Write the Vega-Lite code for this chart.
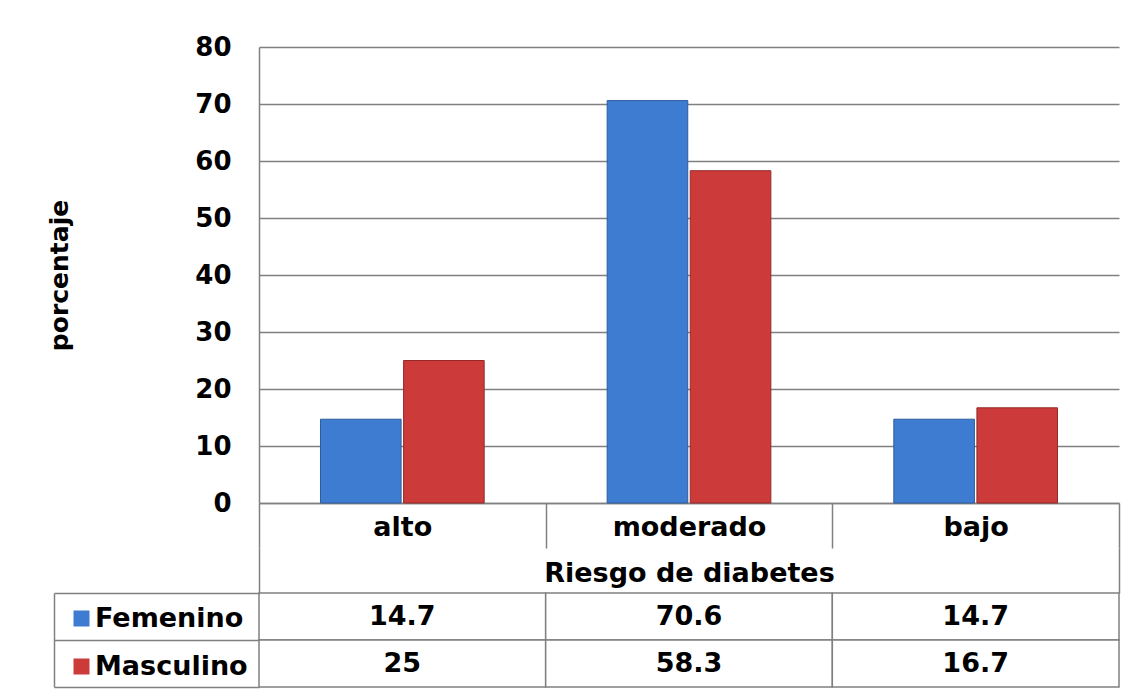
{
  "$schema": "https://vega.github.io/schema/vega-lite/v6.json",
  "background": "white",
  "padding": {"left": 47, "top": 34, "right": 24, "bottom": 8},
  "config": {"font": "DejaVu Sans", "view": {"stroke": null}},
  "data": {"values": [
    {"riesgo": "alto", "sexo": "Femenino", "porcentaje": 14.7},
    {"riesgo": "alto", "sexo": "Masculino", "porcentaje": 25},
    {"riesgo": "moderado", "sexo": "Femenino", "porcentaje": 70.6},
    {"riesgo": "moderado", "sexo": "Masculino", "porcentaje": 58.3},
    {"riesgo": "bajo", "sexo": "Femenino", "porcentaje": 14.7},
    {"riesgo": "bajo", "sexo": "Masculino", "porcentaje": 16.7}
  ]},
  "bounds": "flush",
  "spacing": 90,
  "resolve": {"scale": {"color": "independent"}, "legend": {"color": "independent"}},
  "vconcat": [
    {
      "width": 860,
      "height": 456,
      "mark": {"type": "bar", "strokeWidth": 1},
      "encoding": {
        "x": {
          "field": "riesgo", "type": "nominal", "sort": ["alto", "moderado", "bajo"],
          "title": "Riesgo de diabetes",
          "scale": {"paddingInner": 0, "paddingOuter": 0},
          "axis": {
            "orient": "bottom", "grid": false,
            "domainColor": "#808080", "domainWidth": 1.5,
            "tickBand": "extent", "ticks": true, "tickSize": 45, "tickColor": "#808080", "tickWidth": 1.5,
            "labelAngle": 0, "labelFont": "DejaVu Sans", "labelFontSize": 27, "labelFontWeight": "bold", "labelColor": "black", "labelPadding": -34,
            "titleFont": "DejaVu Sans", "titleFontSize": 27, "titleFontWeight": "bold", "titleColor": "black", "titlePadding": 12
          }
        },
        "xOffset": {"field": "sexo", "type": "nominal", "sort": ["Femenino", "Masculino"], "scale": {"paddingInner": 0.03, "paddingOuter": 0.74}},
        "y": {
          "field": "porcentaje", "type": "quantitative", "title": "porcentaje",
          "scale": {"domain": [0, 80]},
          "axis": {
            "values": [0, 10, 20, 30, 40, 50, 60, 70, 80],
            "domainColor": "#808080", "domainWidth": 1.5, "ticks": false,
            "grid": true, "gridColor": "#808080", "gridWidth": 1.5,
            "labelFont": "DejaVu Sans", "labelFontSize": 26, "labelFontWeight": "bold", "labelColor": "black", "labelPadding": 28,
            "titleFont": "DejaVu Sans", "titleFontSize": 25, "titleFontWeight": "bold", "titleColor": "black", "titlePadding": 122
          }
        },
        "color": {
          "field": "sexo", "type": "nominal",
          "scale": {"domain": ["Femenino", "Masculino"], "range": ["#3d7cd0", "#cc3a3a"]},
          "legend": {
            "orient": "none", "legendX": -191, "legendY": 558, "direction": "vertical",
            "title": null, "padding": 0,
            "symbolType": "square", "symbolSize": 256, "symbolStrokeWidth": 0, "symbolOpacity": 1,
            "labelFont": "DejaVu Sans", "labelFontSize": 27, "labelFontWeight": "bold", "labelColor": "black", "labelOffset": 0,
            "rowPadding": 20
          }
        },
        "stroke": {
          "field": "sexo", "type": "nominal",
          "scale": {"domain": ["Femenino", "Masculino"], "range": ["#2c5d9e", "#962a2a"]},
          "legend": null
        }
      }
    },
    {
      "width": 860,
      "height": 94,
      "encoding": {
        "x": {
          "field": "riesgo", "type": "nominal", "sort": ["alto", "moderado", "bajo"],
          "scale": {"paddingInner": 0, "paddingOuter": 0},
          "axis": {
            "orient": "top", "labels": false, "domain": false, "title": null, "grid": false,
            "tickBand": "extent", "tickSize": 45, "tickColor": "#808080", "tickWidth": 1.5,
            "tickOpacity": {"condition": {"test": "datum.value === 'alto' || datum.value === 'moderado'", "value": 0}, "value": 1}
          }
        },
        "y": {
          "field": "sexo", "type": "nominal", "sort": ["Femenino", "Masculino"],
          "scale": {"paddingInner": 0, "paddingOuter": 0},
          "axis": {
            "labels": false, "title": null, "grid": false,
            "domain": true, "domainColor": "#808080", "domainWidth": 1.5,
            "offset": 205,
            "tickBand": "extent", "tickSize": -205, "tickColor": "#808080", "tickWidth": 1.5
          }
        }
      },
      "layer": [
        {"mark": {"type": "rect", "fill": "white", "stroke": "#808080", "strokeWidth": 1.5}},
        {
          "mark": {"type": "text", "font": "DejaVu Sans", "fontSize": 27, "fontWeight": "bold", "color": "black"},
          "encoding": {"text": {"field": "porcentaje", "type": "nominal"}}
        }
      ]
    }
  ]
}
